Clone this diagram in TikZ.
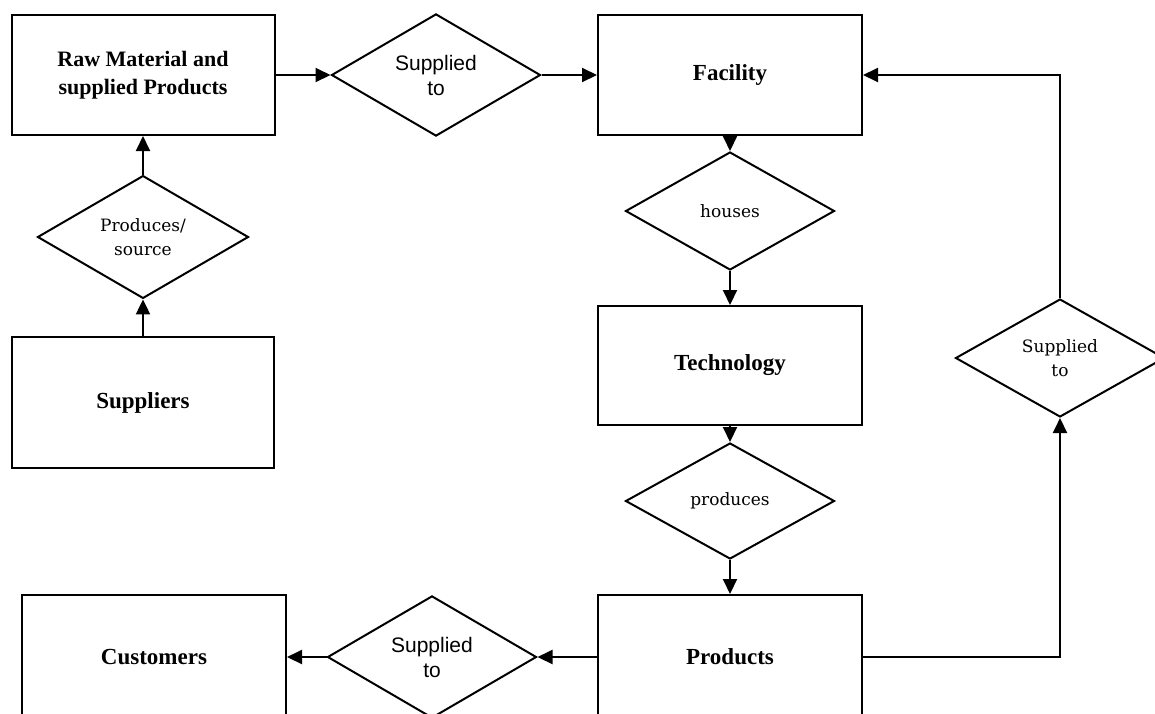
\documentclass[tikz,border=0pt]{standalone}
\usepackage{fontspec}
\setmainfont{Liberation Serif}
\newfontfamily\dvserif{DejaVu Serif}
\newfontfamily\lsans{Liberation Sans}
\usetikzlibrary{shapes.geometric,arrows.meta}
\tikzset{
  entbox/.style={draw, line width=2pt, rectangle, inner sep=0pt, align=center,
    font={\fontsize{23}{28}\selectfont\bfseries}},
  reldia/.style={draw, line width=2pt, diamond, inner sep=0pt, align=center,
    minimum width=209pt, minimum height=118pt,
    font={\fontsize{17}{24}\selectfont\dvserif}},
  sansdia/.style={reldia, font={\fontsize{21}{25}\selectfont\lsans}},
  conn/.style={line width=2pt, -{Triangle[length=15pt,width=14pt]}},
}
\begin{document}
\begin{tikzpicture}[x=1pt,y=-1pt]
\useasboundingbox (0,0) rectangle (1155,713);
\clip (0,0) rectangle (1155,713);
% boxes
\node[entbox, minimum width=263pt, minimum height=120pt, font={\fontsize{22}{28}\selectfont\bfseries}] (raw) at (143,75) {Raw Material and\\supplied Products};
\node[entbox, minimum width=264pt, minimum height=120pt] (fac) at (730,75) {Facility};
\node[entbox, minimum width=264pt, minimum height=119pt] (tech) at (730,365.5) {Technology};
\node[entbox, minimum width=264pt, minimum height=124pt] (prods) at (730,657) {Products};
\node[entbox, minimum width=264pt, minimum height=124pt] (cust) at (154,657) {Customers};
\node[entbox, minimum width=262pt, minimum height=131pt] (supp) at (143,402.5) {Suppliers};
% diamonds
\node[sansdia, minimum height=120pt] (d1) at (436,75) {Supplied\\to};
\node[reldia] (houses) at (730,211) {houses};
\node[reldia, minimum height=116pt] (pdia) at (730,501) {produces};
\node[sansdia, minimum height=120pt] (dbot) at (432,657) {Supplied\\to};
\node[reldia] (dright) at (1060,358) {Supplied\\to};
\node[reldia, minimum width=211pt, minimum height=117pt] (ps) at (143,237) {Produces/\\source};
% connectors
\draw[conn] (raw.east) -- (d1.west);
\draw[conn] (d1.east) -- (fac.west);
\draw[conn] (fac.south) -- (houses.north);
\draw[conn] (houses.south) -- (tech.north);
\draw[conn] (tech.south) -- (pdia.north);
\draw[conn] (pdia.south) -- (prods.north);
\draw[conn] (prods.west) -- (dbot.east);
\draw[conn] (dbot.west) -- (cust.east);
\draw[conn] (prods.east) -| (dright.south);
\draw[conn] (dright.north) |- (fac.east);
\draw[conn] (supp.north) -- (ps.south);
\draw[conn] (ps.north) -- (raw.south);
\end{tikzpicture}
\end{document}
